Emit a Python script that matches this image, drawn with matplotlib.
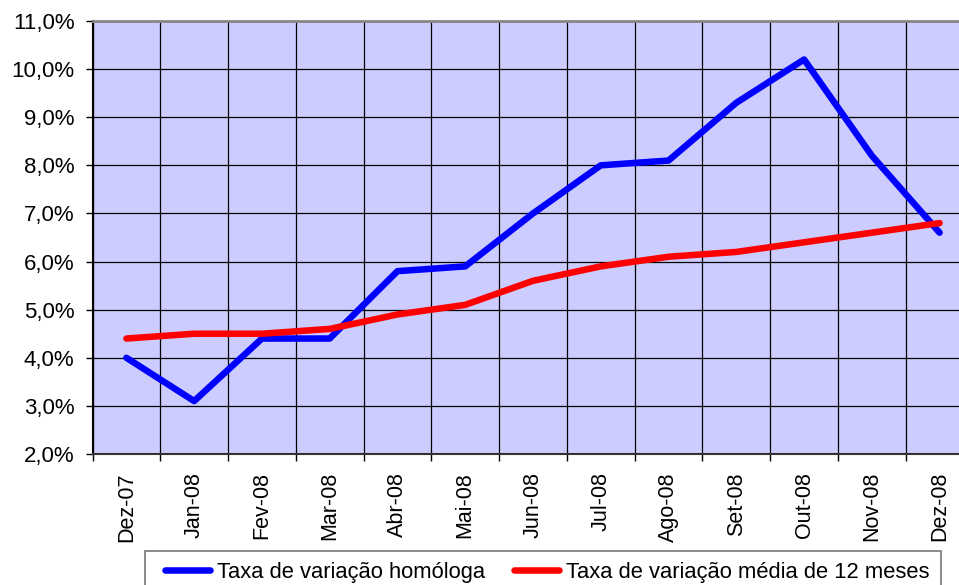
import matplotlib
matplotlib.use("Agg")
import matplotlib.pyplot as plt
from matplotlib.ticker import FixedLocator, NullFormatter
from matplotlib.legend_handler import HandlerLine2D
from matplotlib.lines import Line2D

categories = ["Dez-07", "Jan-08", "Fev-08", "Mar-08", "Abr-08", "Mai-08", "Jun-08",
              "Jul-08", "Ago-08", "Set-08", "Out-08", "Nov-08", "Dez-08"]
homologa = [4.0, 3.1, 4.4, 4.4, 5.8, 5.9, 7.0, 8.0, 8.1, 9.3, 10.2, 8.2, 6.6]
media12 = [4.4, 4.5, 4.5, 4.6, 4.9, 5.1, 5.6, 5.9, 6.1, 6.2, 6.4, 6.6, 6.8]
yticks = [2, 3, 4, 5, 6, 7, 8, 9, 10, 11]
ylabels = ["2,0%", "3,0%", "4,0%", "5,0%", "6,0%", "7,0%", "8,0%", "9,0%", "10,0%", "11,0%"]

plt.rcParams['font.family'] = ['Liberation Sans', 'DejaVu Sans']
FS = 15.5
FSY = 16
FSL = 15.8

W, H = 959, 585
fig = plt.figure(figsize=(W / 100, H / 100), dpi=100)
left, right, top, bottom = 92.5, 973.5, 21, 454
ax = fig.add_axes([left / W, 1 - bottom / H, (right - left) / W, (bottom - top) / H])
ax.set_facecolor("#CCCCFF")

n = len(categories)
x = list(range(n))
ax.plot(x, homologa, color="#0000FF", lw=4.7, solid_joinstyle="round", solid_capstyle="round",
        label="Taxa de variação homóloga", zorder=3)
ax.plot(x, media12, color="#FF0000", lw=4.7, solid_joinstyle="round", solid_capstyle="round",
        label="Taxa de variação média de 12 meses", zorder=3)

ax.set_xlim(-0.5, n - 0.5)
ax.set_ylim(2, 11)
ax.set_yticks(yticks)
ax.set_yticklabels(ylabels, fontsize=FSY)
ax.set_xticks(x)
ax.set_xticklabels(categories, rotation=90, fontsize=FS)
ax.tick_params(axis="x", which="major", length=0, pad=13)
ax.xaxis.set_minor_locator(FixedLocator([i - 0.5 for i in range(n + 1)]))
ax.xaxis.set_minor_formatter(NullFormatter())
ax.tick_params(axis="x", which="minor", length=5, width=1, color="black", direction="out")
ax.tick_params(axis="y", length=5, width=1, color="black", direction="out", pad=8)

ax.grid(True, axis="y", which="major", color="black", lw=0.9)
ax.grid(True, axis="x", which="minor", color="black", lw=0.9)
ax.set_axisbelow(True)

ax.spines["top"].set_color("#888888")
ax.spines["top"].set_linewidth(2)
ax.spines["left"].set_color("black")
ax.spines["left"].set_linewidth(1.5)
ax.spines["bottom"].set_color("#333333")
ax.spines["bottom"].set_linewidth(1.5)
ax.spines["right"].set_visible(False)

leg = fig.legend(loc="upper left", bbox_to_anchor=(145 / W, 1 - 551 / H), ncol=2,
                 fontsize=FSL, frameon=True, fancybox=False, edgecolor="#555555",
                 handlelength=2.47, handletextpad=0.32, columnspacing=0.9,
                 borderpad=0.5, borderaxespad=0,
                 handler_map={Line2D: HandlerLine2D(xpad=0.41)})
leg.get_frame().set_linewidth(1.2)

fig.savefig("out.png", dpi=100)
